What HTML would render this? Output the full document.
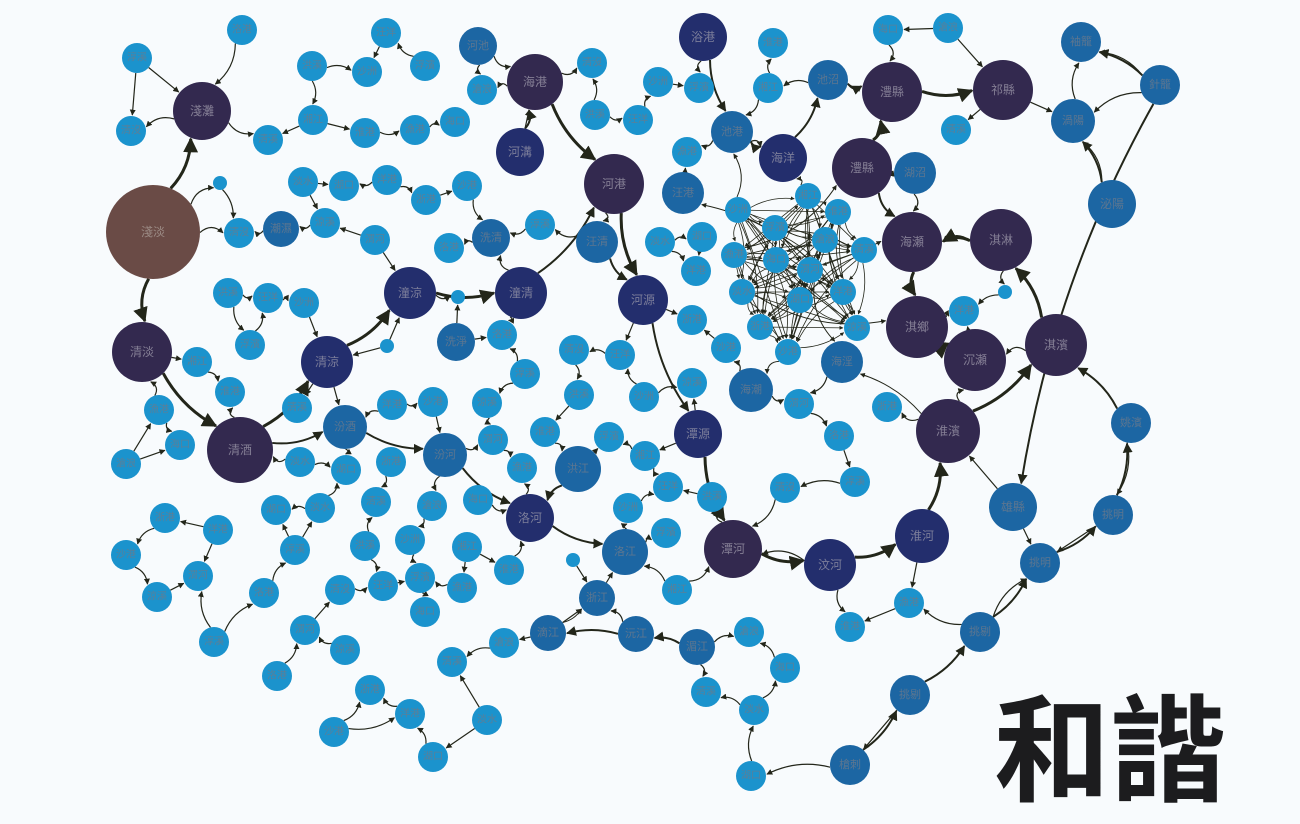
<!DOCTYPE html>
<html><head><meta charset="utf-8">
<style>
html,body{margin:0;padding:0;background:#f8fbfd;}
svg{display:block;}
.lbl{font-family:"Liberation Sans","Noto Sans CJK TC",sans-serif;text-anchor:middle;dominant-baseline:central;}
</style></head>
<body>
<svg id="chart" width="1300" height="824" viewBox="0 0 1300 824">
<defs>
<marker id="arr" viewBox="0 0 10 10" refX="9" refY="5" markerWidth="5" markerHeight="5" orient="auto-start-reverse">
<path d="M0,0 L10,5 L0,10 z" fill="#23261a"/>
</marker>
</defs>
<rect width="1300" height="824" fill="#f8fbfd"/>
<g id="edges"></g>
<g id="nodes"></g>
<text x="1110" y="742" class="lbl" font-size="116" font-weight="bold" fill="#1c1c1e" style='font-family:"Noto Sans CJK TC","WenQuanYi Zen Hei",sans-serif'>和諧</text>
</svg>
<script>
// node data: [x, y, radius, colorLevel, label]
const bigNodes = [
[153,232,47,4,"淺淡"],[142,352,30,3,"清淡"],[202,111,29,3,"淺灘"],[240,450,33,3,"清酒"],
[327,362,26,2,"清涼"],[410,293,26,2,"潼涼"],[521,293,26,2,"潼清"],[520,152,24,2,"河溝"],
[535,82,28,3,"海港"],[614,184,30,3,"河港"],[643,300,25,2,"河源"],[703,37,24,2,"浴港"],
[732,132,21,1,"池港"],[783,158,24,2,"海洋"],[828,80,20,1,"池沼"],[892,92,30,3,"澧縣"],
[1003,90,30,3,"祁縣"],[862,168,30,3,"澧縣"],[915,173,21,1,"湖沼"],[912,242,30,3,"海瀬"],
[1001,240,31,3,"淇淋"],[917,327,31,3,"淇鄉"],[975,360,31,3,"沉瀬"],[1056,345,31,3,"淇濱"],
[948,431,32,3,"淮濱"],[922,536,27,2,"淮河"],[830,565,26,2,"汶河"],[733,549,29,3,"潭河"],
[698,434,24,2,"潭源"],[530,518,24,2,"洛河"],[625,552,23,1,"洛江"],[578,469,23,1,"洪江"],
[445,455,22,1,"汾河"],[345,427,22,1,"汾酒"],[456,342,19,1,"洗淨"],[491,238,19,1,"洗清"],
[597,242,21,1,"汪清"],[683,193,21,1,"汪港"],[751,390,22,1,"海潮"],[842,362,21,1,"海淫"],
[1013,507,24,1,"雄縣"],[1112,204,24,1,"泌陽"],[1073,121,22,1,"渦陽"],[1081,42,20,1,"袖籠"],
[1160,85,20,1,"針籠"],[1131,423,20,1,"姚濱"],[1113,515,20,1,"挑明"],[1040,563,20,1,"挑明"],
[980,632,20,1,"挑剔"],[910,695,20,1,"挑剔"],[850,765,20,1,"槍刺"],[281,229,18,1,"潮濕"],
[548,633,18,1,"滴江"],[636,634,18,1,"沅江"],[697,647,18,1,"湄江"],[597,598,18,1,"浙江"],
[478,46,19,1,"河池"]
];
const smallPos = [
[242,30],[137,58],[131,131],[312,66],[386,33],[367,72],[425,66],[313,120],[365,133],[415,130],
[455,122],[482,90],[268,140],[303,182],[344,186],[387,180],[426,200],[467,186],[325,223],[375,240],
[449,248],[540,225],[239,233],[228,293],[268,298],[304,303],[250,345],[197,362],[230,392],[159,410],
[180,445],[126,464],[297,408],[300,462],[346,470],[392,405],[391,462],[433,402],[487,403],[493,440],
[502,335],[525,374],[574,350],[579,395],[620,355],[644,397],[609,437],[645,456],[545,432],[522,468],
[478,500],[432,506],[376,502],[320,508],[276,510],[218,530],[165,518],[126,555],[157,597],[198,576],
[264,593],[295,550],[340,590],[365,546],[383,586],[410,540],[420,578],[467,547],[509,570],[462,588],
[425,612],[504,643],[452,662],[487,720],[433,757],[410,714],[370,690],[334,732],[345,650],[305,630],
[277,676],[214,642],[592,63],[595,115],[638,120],[658,82],[699,88],[768,88],[773,43],[687,152],
[888,30],[948,28],[956,130],[660,242],[702,237],[696,271],[692,320],[726,348],[692,383],[799,404],
[839,436],[855,482],[785,488],[712,497],[668,487],[628,508],[666,533],[677,590],[850,627],[909,603],
[785,668],[749,632],[706,692],[754,710],[751,776],[964,311],[887,407]
];
const smallNames = ["洛港","淳溪","清沒","洪溪","汪洋","沙洲","浮濱","湘江","淮港","漁港","海口","滄浪","清溪","淡水","湖口","洋港","浙港","沙港","涼溪","渭河"];
const tinyPos = [[220,183],[573,560],[1005,292],[458,297],[387,346]];
const clusterPos = [
[738,210],[775,228],[808,196],[838,212],[734,255],[776,260],[825,240],[864,250],
[742,292],[800,300],[843,292],[760,327],[788,352],[857,328],[810,270]
];
// explicit edges between big nodes [from, to, weight]
const bigEdges = [
[0,2,3],[0,1,3],[1,3,3],[3,4,3],[4,5,3],[5,6,3],[6,9,2],[7,8,2],[8,9,3],[9,10,3],
[10,28,2],[28,27,3],[27,26,3],[26,25,3],[25,24,3],[24,23,3],[23,20,3],[20,19,3],[19,21,3],
[21,22,3],[17,15,3],[15,16,3],[17,19,2],[13,14,2],[14,15,2],[12,13,2],[11,12,2],
[29,30,2],[31,29,2],[32,29,2],[33,32,2],[3,33,2],[44,40,2],[50,49,2],[49,48,2],
[48,47,2],[47,46,2],[46,45,2],[45,23,2],[44,43,2],[41,42,2],[53,52,2],[54,53,2],[52,55,1],[24,39,1],[36,10,2]
];
const colors = ["#1b93cd","#1c66a3","#232e6d","#33294f","#6a4b46"];
const labelColors = ["#5b7f98","#5d7690","#7c7e9a","#857f95","#9b8a84"];

const allNodes = [];
bigNodes.forEach(n => allNodes.push({x:n[0],y:n[1],r:n[2],lv:n[3],name:n[4],kind:"big"}));
smallPos.forEach((p,i) => allNodes.push({x:p[0],y:p[1],r:15,lv:0,name:smallNames[i%smallNames.length],kind:"small"}));
tinyPos.forEach(p => allNodes.push({x:p[0],y:p[1],r:7,lv:0,name:"",kind:"tiny"}));
const clusterStart = allNodes.length;
clusterPos.forEach((p,i) => allNodes.push({x:p[0],y:p[1],r:13,lv:0,name:smallNames[(i+5)%smallNames.length],kind:"cluster"}));

const NS = "http://www.w3.org/2000/svg";
const eg = document.getElementById("edges");
const ng = document.getElementById("nodes");

function drawEdge(a,b,w,bend){
  const dx=b.x-a.x, dy=b.y-a.y, d=Math.hypot(dx,dy)||1;
  const ux=dx/d, uy=dy/d;
  const sx=a.x+ux*a.r, sy=a.y+uy*a.r, tx=b.x-ux*(b.r+1), ty=b.y-uy*(b.r+1);
  const mx=(sx+tx)/2 - uy*bend*d, my=(sy+ty)/2 + ux*bend*d;
  const p=document.createElementNS(NS,"path");
  p.setAttribute("d",`M${sx},${sy} Q${mx},${my} ${tx},${ty}`);
  p.setAttribute("fill","none");
  p.setAttribute("stroke","#23261a");
  p.setAttribute("stroke-width",w);
  p.setAttribute("marker-end","url(#arr)");
  
  
  eg.appendChild(p);
}

bigEdges.forEach(e => drawEdge(allNodes[e[0]],allNodes[e[1]],e[2],0.08));

const seen = new Set();
for(let i=0;i<clusterStart;i++){
  const a=allNodes[i];
  const cand=[];
  for(let j=0;j<clusterStart;j++){ if(j===i) continue;
    const b=allNodes[j]; cand.push([Math.hypot(a.x-b.x,a.y-b.y)-b.r-a.r,j]); }
  cand.sort((p,q)=>p[0]-q[0]);
  const k = (i%2===0)?2:1;
  for(let c=0;c<k;c++){
    const j=cand[c][1]; const key=Math.min(i,j)+"-"+Math.max(i,j);
    if(seen.has(key)) continue; seen.add(key);
    if(cand[c][0]>90) continue;
    drawEdge(a,allNodes[j],1.2,(i%3-1)*0.12);
  }
}
for(let i=clusterStart;i<allNodes.length;i++){
  for(let j=i+1;j<allNodes.length;j++){
    drawEdge(allNodes[i],allNodes[j],0.8,((i+j)%3-1)*0.1);
  }
}
[12,13,17,19,21,37,38,39].forEach((b,i)=>{
  drawEdge(allNodes[clusterStart+(i*2)%clusterPos.length],allNodes[b],1,0.15);
});

allNodes.forEach(n=>{
  const c=document.createElementNS(NS,"circle");
  c.setAttribute("cx",n.x); c.setAttribute("cy",n.y); c.setAttribute("r",n.r);
  c.setAttribute("fill",colors[n.lv]);
  
  
  ng.appendChild(c);
  if(n.name && n.r>=13){
    const t=document.createElementNS(NS,"text");
    t.setAttribute("x",n.x); t.setAttribute("y",n.y);
    t.setAttribute("class","lbl");
    t.setAttribute("font-size", n.r>=24?12:(n.r>=18?11:10));
    t.setAttribute("fill",labelColors[n.lv]);
    t.textContent=n.name;
    
    
    ng.appendChild(t);
  }
});
</script>
</body></html>
